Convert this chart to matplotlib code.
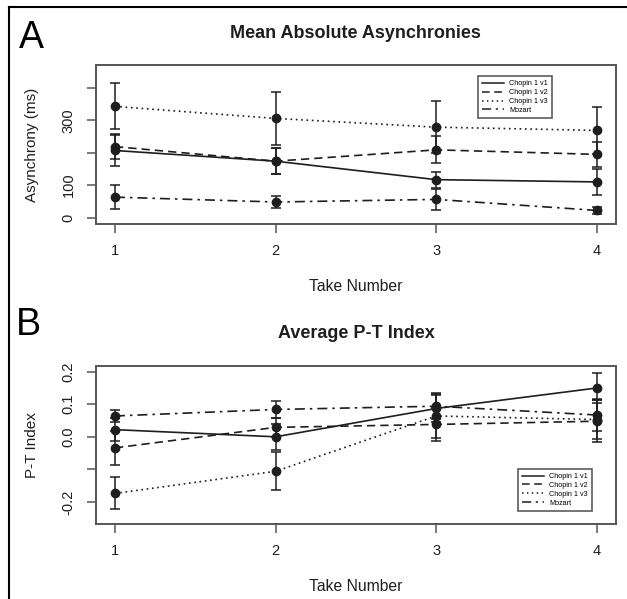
import matplotlib
matplotlib.use('Agg')
import matplotlib.pyplot as plt
from matplotlib.lines import Line2D

plt.rcParams['font.family'] = ['Liberation Sans', 'DejaVu Sans']

takes = [1, 2, 3, 4]
series_names = ['Chopin 1 v1', 'Chopin 1 v2', 'Chopin 1 v3', 'Mozart']

# panel A: mean absolute asynchronies (ms)
async_v1 = [207, 174, 117, 110]
async_v1_err = [47, 41, 25, 40]
async_v2 = [219, 174, 209, 195]
async_v2_err = [38, 41, 42, 38]
async_v3 = [343, 306, 279, 269]
async_v3_err = [71, 81, 81, 73]
async_mozart = [63, 48, 56, 22]
async_mozart_err = [37, 20, 33, 11]

# panel B: average P-T index
pt_v1 = [0.022, 0.0, 0.087, 0.150]
pt_v1_err = [0.035, 0.04, 0.04, 0.047]
pt_v2 = [-0.034, 0.029, 0.038, 0.048]
pt_v2_err = [0.053, 0.03, 0.05, 0.065]
pt_v3 = [-0.174, -0.106, 0.064, 0.053]
pt_v3_err = [0.049, 0.059, 0.067, 0.06]
pt_mozart = [0.064, 0.084, 0.094, 0.067]
pt_mozart_err = [0.018, 0.026, 0.04, 0.048]

ink = '#1e1e1e'
frame = '#555555'
styles = ['-', (0, (5, 3)), (0, (1, 2.2)), (0, (6, 3, 1.5, 3))]


def draw_panel(ax, means, errs, ylim, yticks, ylabels, ylabel, title, anchor, loc):
    for m, e, ls in zip(means, errs, styles):
        ax.errorbar(takes, m, yerr=e, color=ink, ls=ls, lw=1.2,
                    marker='o', ms=6, capsize=3.5, elinewidth=1.1, capthick=1.1)

    ax.set_xlim(0.88, 4.12)
    ax.set_ylim(*ylim)
    ax.set_xticks(takes)
    ax.set_yticks(yticks)
    ax.set_yticklabels(ylabels)
    for s in ax.spines.values():
        s.set_color(frame)
        s.set_linewidth(1.4)
    ax.tick_params(length=6.5, width=1.1, color=frame, pad=8,
                   labelsize=10.5, labelcolor=ink)
    ax.tick_params(axis='y', labelrotation=90)
    for lab in ax.get_yticklabels():
        lab.set_va('center')

    ax.set_title(title, fontsize=13, fontweight='bold', pad=20, color=ink)
    ax.set_xlabel('Take Number', fontsize=11.3, color=ink)
    ax.xaxis.set_label_coords(0.5, -0.345)
    ax.set_ylabel(ylabel, fontsize=11, color=ink)
    ax.yaxis.set_label_coords(-0.109, 0.5)

    handles = [Line2D([], [], color=ink, ls=ls, lw=1.1) for ls in styles]
    leg = ax.legend(handles, series_names, loc=loc, bbox_to_anchor=anchor,
                    borderaxespad=0, fontsize=5.2, frameon=True, fancybox=False,
                    edgecolor='#333333', labelspacing=0.25, borderpad=0.55,
                    handlelength=3.0, handletextpad=0.8)
    leg.get_frame().set_linewidth(1.2)


def run():
    fig = plt.figure(figsize=(6.27, 5.99), dpi=100)

    ax_a = fig.add_axes([0.1526, 0.626, 0.830, 0.265])
    draw_panel(ax_a,
               [async_v1, async_v2, async_v3, async_mozart],
               [async_v1_err, async_v2_err, async_v3_err, async_mozart_err],
               (-20, 470), [0, 100, 200, 300, 400], ['0', '100', '', '300', ''],
               'Asynchrony (ms)', 'Mean Absolute Asynchronies',
               (0.877, 0.93), 'upper right')

    ax_b = fig.add_axes([0.1526, 0.1252, 0.830, 0.264])
    draw_panel(ax_b,
               [pt_v1, pt_v2, pt_v3, pt_mozart],
               [pt_v1_err, pt_v2_err, pt_v3_err, pt_mozart_err],
               (-0.268, 0.218), [-0.2, -0.1, 0.0, 0.1, 0.2],
               ['-0.2', '', '0.0', '0.1', '0.2'],
               'P-T Index', 'Average P-T Index',
               (0.954, 0.084), 'lower right')

    fig.text(19 / 627, 1 - 48.3 / 599, 'A', fontsize=27, ha='left', va='baseline')
    fig.text(16 / 627, 1 - 335 / 599, 'B', fontsize=27, ha='left', va='baseline')

    # cropped border: top and left edges only
    fig.add_artist(Line2D([9 / 627, 9 / 627], [0, 1 - 7.3 / 599],
                          transform=fig.transFigure, color='black', lw=1.5))
    fig.add_artist(Line2D([9 / 627, 1], [1 - 7.3 / 599, 1 - 7.3 / 599],
                          transform=fig.transFigure, color='black', lw=1.5))

    fig.savefig('out.png', dpi=100)


if __name__ == "__main__":
    run()
